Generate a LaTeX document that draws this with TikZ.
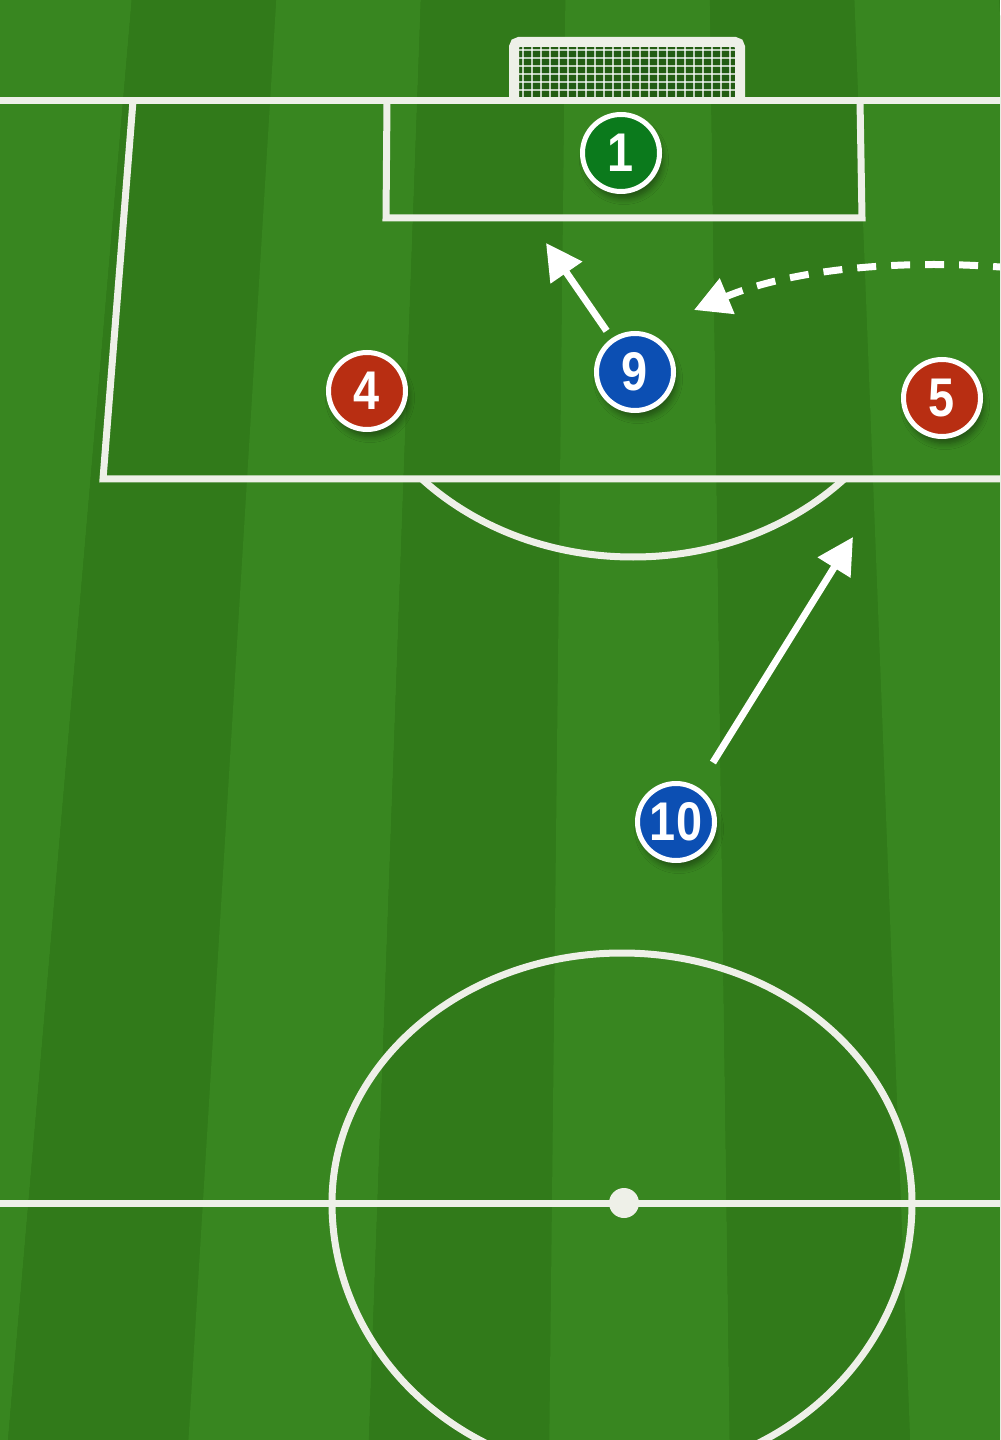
\documentclass[tikz,border=0pt]{standalone}
\usepackage{fontspec}
\setsansfont{Liberation Sans}[FakeStretch=0.86]
\usetikzlibrary{arrows.meta, shadows.blur}
\definecolor{grassdark}{HTML}{317A1A}
\definecolor{grasslight}{HTML}{388620}
\definecolor{chalk}{HTML}{EEF0E8}
\definecolor{teamred}{HTML}{B82E12}
\definecolor{teamblue}{HTML}{0C4FB3}
\definecolor{keeper}{HTML}{0B7A1C}
\definecolor{netbg}{HTML}{235C13}

\begin{document}
\begin{tikzpicture}[x=0.1mm, y=-0.1mm,
    line/.style={draw=chalk, line width=0.7mm}, % pitch markings
    netline/.style={draw=white, opacity=0.7, line width=0.12mm},
    player/.style={circle, draw=white, line width=0.5mm, minimum size=7.7mm, inner sep=0pt,
      text=white, font=\sffamily\bfseries\fontsize{15.5}{16}\selectfont,
      blur shadow={shadow xshift=0.3mm, shadow yshift=-0.7mm, shadow opacity=40, shadow blur steps=6}},
    run/.style={draw=white, line width=0.7mm, -{Triangle[length=3.6mm, width=3.7mm]}}
    ]
\useasboundingbox (0,0) rectangle (1000,1440);
\clip (0,0) rectangle (1000,1440);

% grass stripes
\fill[grassdark] (0,0) rectangle (1000,1440);
\foreach \b/\c in {-86/grasslight, 75/grassdark, 236/grasslight, 397/grassdark, 558/grasslight, 719/grassdark, 880/grasslight} {
  \pgfmathsetmacro{\xa}{630+(\b-630)*0.8978}
  \pgfmathsetmacro{\xb}{630+(\b+161-630)*0.8978}
  \pgfmathsetmacro{\xc}{630+(\b+161-630)*1.1207}
  \pgfmathsetmacro{\xd}{630+(\b-630)*1.1207}
  \fill[\c] (\xa,0) -- (\xb,0) -- (\xc,1440) -- (\xd,1440) -- cycle;
}

% goal
\fill[netbg] (514,42) rectangle (740,101);
\foreach \x in {523,532,...,733} \draw[netline] (\x,46) -- (\x,100);
\foreach \y in {50,58,...,98} \draw[netline] (518,\y) -- (736,\y);
\draw[chalk, line width=1mm, rounded corners=0.5mm] (514,103) -- (514,42) -- (740,42) -- (740,103);

% markings
\draw[line] (0,101) -- (1000,101);
\draw[line] (387,101) -- (386,218) -- (862,218) -- (860,101);
\draw[line] (133,101) -- (103,479) -- (1010,479);
\begin{scope}
  \clip (0,479) rectangle (1000,700);
  \draw[line] (633,309) ellipse [x radius=290, y radius=248];
\end{scope}
\draw[line] (0,1203) -- (1000,1203);
\begin{scope}
  \clip (0,900) rectangle (1000,1203);
  \draw[line] (622,1203) ellipse [x radius=290, y radius=250];
\end{scope}
\begin{scope}
  \clip (0,1203) rectangle (1000,1500);
  \draw[line] (622,1203) ellipse [x radius=290, y radius=272];
\end{scope}
\fill[chalk] (624,1203) circle [radius=1.5mm];

% players
\node[player, fill=keeper] (p1) at (621,153) {1};
\node[player, fill=teamblue] (p9) at (635,372) {9};
\node[player, fill=teamred] (p4) at (367,391) {4};
\node[player, fill=teamred] (p5) at (942,398) {5};
\node[player, fill=teamblue] (p10) at (676,822) {10};

% runs
\coordinate (t9) at (546,243);
\coordinate (t10) at (853,537);
\coordinate (s5) at (1012,268);
\coordinate (t5) at (694,310);
\draw[run, shorten <=0.9mm] (p9) -- (t9);
\draw[run, shorten <=2.9mm] (p10) -- (t10);
\draw[run, dash pattern=on 1.9mm off 1.5mm] (s5) .. controls (900,258) and (790,270) .. (t5);
\end{tikzpicture}
\end{document}
